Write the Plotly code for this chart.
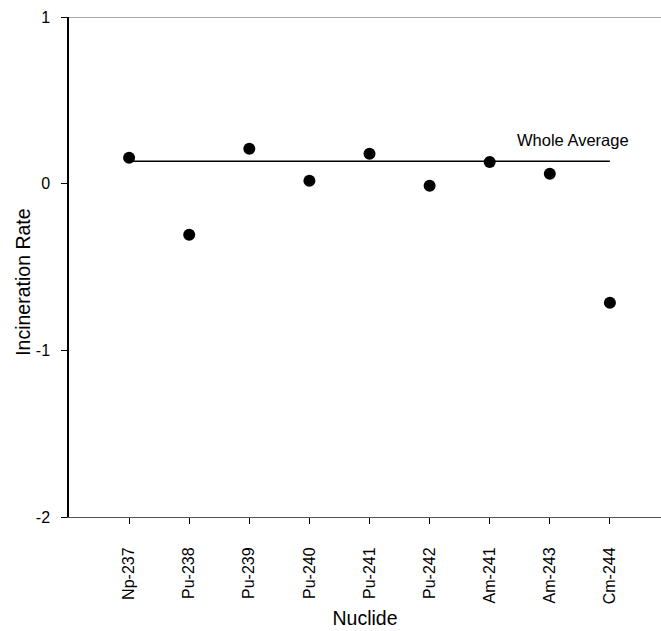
import plotly.graph_objects as go

nuclides = ["Np-237", "Pu-238", "Pu-239", "Pu-240", "Pu-241", "Pu-242", "Am-241", "Am-243", "Cm-244"]
incineration_rate = [0.156, -0.306, 0.21, 0.018, 0.18, -0.012, 0.13, 0.06, -0.714]
whole_average = 0.134
y_ticks = [1, 0, -1, -2]

fig = go.Figure()
fig.add_trace(go.Scatter(
    x=[nuclides[0], nuclides[-1]], y=[whole_average, whole_average],
    mode="lines", line=dict(color="black", width=1.5), showlegend=False, hoverinfo="skip"))
fig.add_trace(go.Scatter(
    x=nuclides, y=incineration_rate, mode="markers",
    marker=dict(color="black", size=12), showlegend=False))

fig.add_annotation(x=6.42, y=0.264, xref="x", yref="y", text="Whole Average",
                   showarrow=False, xanchor="left", yanchor="middle",
                   font=dict(family="Liberation Sans, Arial", size=16.5, color="black"))
fig.add_annotation(x=-0.078, y=0.47, xref="paper", yref="paper", text="Incineration Rate",
                   showarrow=False, textangle=-90, xanchor="center", yanchor="middle",
                   font=dict(family="Liberation Sans, Arial", size=19.5, color="black"))

fig.update_layout(
    width=661, height=631,
    margin=dict(l=69, r=0, t=17, b=114),
    plot_bgcolor="white", paper_bgcolor="white",
    font=dict(family="Liberation Sans, Arial", color="black"),
)
fig.update_xaxes(
    type="category", categoryorder="array", categoryarray=nuclides,
    range=[-1.0, 8.85], showgrid=False, zeroline=False,
    showline=True, linecolor="#555555", linewidth=1, mirror=False,
    ticks="outside", ticklen=6, tickcolor="black", tickwidth=1.2,
    tickangle=-90, tickfont=dict(size=16), ticklabelstandoff=17,
    title=dict(text="Nuclide", font=dict(size=19.5), standoff=8),
)
fig.update_yaxes(
    range=[-2, 1], tickvals=y_ticks, ticktext=[str(v) for v in y_ticks],
    showgrid=False, zeroline=False,
    showline=True, linecolor="black", linewidth=1.5,
    ticks="outside", ticklen=6, tickcolor="black", tickwidth=1.2,
    tickfont=dict(size=16), ticklabelstandoff=8,
)
fig.add_shape(type="line", xref="paper", yref="y", x0=0, x1=1, y0=1, y1=1,
              line=dict(color="#555555", width=1))

fig.write_html("out.html")
